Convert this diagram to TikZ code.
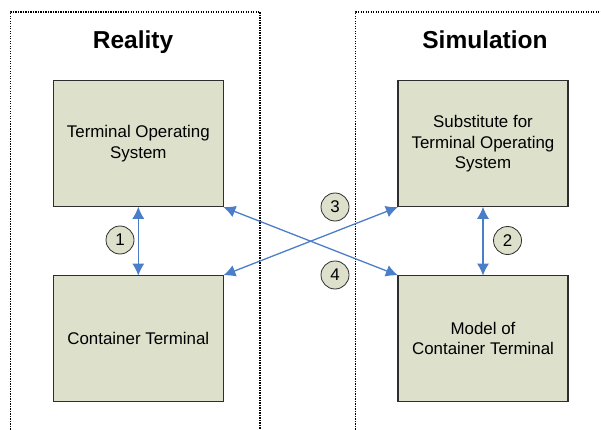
\documentclass[tikz,border=0pt]{standalone}
\usepackage{fontspec}
\setmainfont{Liberation Sans}
\usepackage{tikz}
\usetikzlibrary{arrows.meta, positioning}
\definecolor{boxfill}{HTML}{DDE0CB}
\definecolor{boxline}{HTML}{2E2E2E}
\definecolor{link}{HTML}{4A7EC8}

\begin{document}
\begin{tikzpicture}[
    x=1pt, y=-1pt,
    font=\fontsize{16.9}{20.5}\selectfont,
    frame/.style={draw=black, dash pattern=on 1.4pt off 1.1pt, line width=1.2pt},
    title/.style={font=\fontsize{24.5}{28}\selectfont\bfseries, anchor=base},
    box/.style={draw=boxline, fill=boxfill, line width=1.1pt, align=center,
                minimum width=170pt, minimum height=126pt, inner sep=0pt},
    num/.style={circle, draw=boxline, fill=boxfill, line width=0.8pt,
                minimum size=28pt, inner sep=0pt},
    ar/.style={{Latex[length=12pt,width=12pt]}-{Latex[length=12pt,width=12pt]},
               link, line width=1.3pt, shorten <=-0.5pt, shorten >=-0.5pt}
  ]
    \useasboundingbox (0,0) rectangle (601,430);
    % two dotted frames
    \draw[frame] (10.5,432) |- (260,12) -- (260,432);
    \draw[frame] (355.5,432) |- (603,12);
    \node[title] (real) at (133,48.5) {Reality};
    \node[title] (sim) at (485,48.5) {Simulation};
    % reality side
    \node[box] (tos) at (138.3,143.7) {Terminal Operating\\System};
    \node[box] (ct) at (138.3,338.7) {Container Terminal};
    % simulation side
    \node[box] (stos) at (483,143.7) {Substitute for\\Terminal Operating\\System};
    \node[box] (mct) at (483,338.7) {Model of\\Container Terminal};
    % links
    \draw[ar] (tos.south) -- (ct.north);
    \draw[ar] (stos.south) -- (mct.north);
    \draw[ar] (tos.south east) -- (mct.north west);
    \draw[ar] (ct.north east) -- (stos.south west);
    \node[num] (n1) at (120,240) {1};
    \node[num] (n2) at (507.5,240.5) {2};
    \node[num] (n3) at (335,207) {3};
    \node[num] (n4) at (335,275) {4};
  \end{tikzpicture}
\end{document}
